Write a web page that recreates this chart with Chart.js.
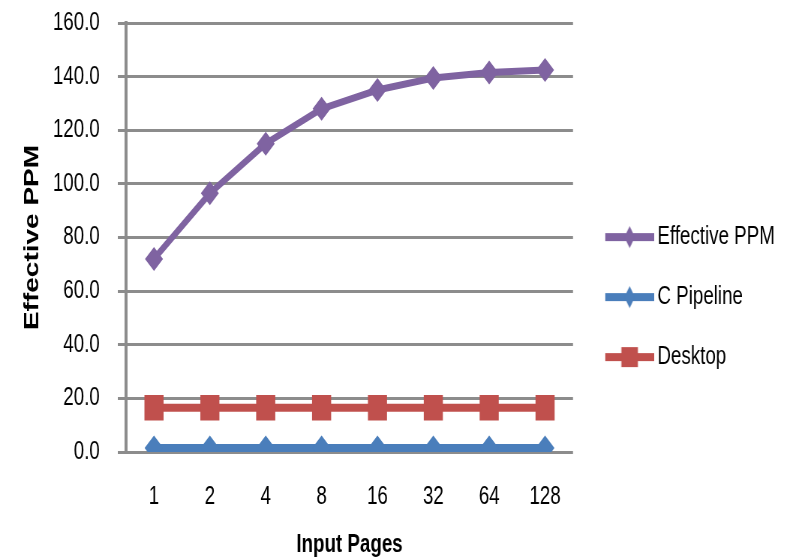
<!DOCTYPE html>
<html>
<head>
<meta charset="utf-8">
<script src="https://cdn.jsdelivr.net/npm/chart.js@4"></script>
<style>
  html, body { margin: 0; padding: 0; background: #fff; overflow: hidden; }
  /* the original figure is squeezed horizontally: draw wide, show at 796px */
  #ppmChart { display: block; width: 796px; height: 560px; }
</style>
</head>
<body>
<canvas id="ppmChart" width="1061" height="560" style="width:796px;height:560px"></canvas>
<script>
// ===== DATA =====
const pages        = ['1', '2', '4', '8', '16', '32', '64', '128'];
const effectivePpm = [72, 96.5, 115, 128, 135, 139.5, 141.5, 142.5];
const cPipeline    = [1.5, 1.5, 1.5, 1.5, 1.5, 1.5, 1.5, 1.5];
const desktop      = [16.5, 16.5, 16.5, 16.5, 16.5, 16.5, 16.5, 16.5];
const yTicks       = [0, 20, 40, 60, 80, 100, 120, 140, 160];

const COLORS = {
  purple: '#7f63a1',
  blue:   '#4a7ebb',
  red:    '#c0504d',
  grid:   '#8c8c8c',
};

const SANS = "'Liberation Sans', Arial, sans-serif";
const LEGEND_EXTRA = 20;   // legend box comes out a bit narrow for its text, widen it

// ===== LEGEND SWATCH (line + marker, pushed right so it sits next to the text) =====
function legendSwatch(kind, color) {
  const W = 116, H = 26, x0 = 51, x1 = 116, mid = (x0 + x1) / 2;
  const c = document.createElement('canvas');
  c.width = W; c.height = H;
  const g = c.getContext('2d');
  g.fillStyle = color;
  g.fillRect(x0, H / 2 - 4, x1 - x0, 8);
  if (kind === 'diamond') {
    g.beginPath();
    g.moveTo(mid, 2); g.lineTo(mid + 7, H / 2); g.lineTo(mid, H - 2); g.lineTo(mid - 7, H / 2);
    g.closePath(); g.fill();
  } else {
    g.fillRect(mid - 11, 3, 22, H - 6);
  }
  return c;
}

const legendImgs = [
  legendSwatch('diamond', COLORS.purple),
  legendSwatch('diamond', COLORS.blue),
  legendSwatch('square', COLORS.red),
];

const widenLegend = {
  id: 'widenLegend',
  beforeLayout(chart) {
    const lg = chart.legend;
    if (!lg || lg._widened) return;
    const fit = lg.fit.bind(lg);
    lg.fit = () => { fit(); lg.width += LEGEND_EXTRA; };
    lg._widened = true;
  }
};

new Chart(document.getElementById('ppmChart'), {
  type: 'line',
  data: {
    labels: pages,
    datasets: [
      {
        label: 'Effective PPM',
        data: effectivePpm,
        borderColor: COLORS.purple,
        backgroundColor: COLORS.purple,
        borderWidth: 7,
        pointStyle: 'rectRot',
        pointRadius: 12,
        pointBorderWidth: 0,
      },
      {
        label: 'C Pipeline',
        data: cPipeline,
        borderColor: COLORS.blue,
        backgroundColor: COLORS.blue,
        borderWidth: 8,
        pointStyle: 'rectRot',
        pointRadius: 12.5,
        pointBorderWidth: 0,
      },
      {
        label: 'Desktop',
        data: desktop,
        borderColor: COLORS.red,
        backgroundColor: COLORS.red,
        borderWidth: 8,
        pointStyle: 'rect',
        pointRadius: 18,
        pointBorderWidth: 0,
      },
    ]
  },
  plugins: [widenLegend],
  options: {
    responsive: false,
    animation: false,
    layout: { autoPadding: false, padding: { top: 23, right: 16, bottom: 0, left: 0 } },
    plugins: {
      tooltip: { enabled: false },
      legend: {
        position: 'right',
        title: { display: true, text: ' ', font: { size: 1 }, padding: 22.5 },
        labels: {
          usePointStyle: true,
          pointStyleWidth: 100,
          padding: 0,
          color: '#000',
          font: { size: 25, family: SANS, lineHeight: 2.4 },
          // one-line arrays: the row height then follows font.lineHeight
          generateLabels: chart => Chart.defaults.plugins.legend.labels.generateLabels(chart)
            .map((item, i) => ({ ...item, text: [item.text], pointStyle: legendImgs[i] })),
        }
      }
    },
    scales: {
      x: {
        offset: true,
        grid: { display: false, drawTicks: false },
        border: { display: false },
        ticks: { color: '#000', padding: 30, font: { size: 25, family: SANS } },
        title: {
          display: true,
          text: 'Input Pages',
          color: '#000',
          padding: { top: 0, bottom: 0 },
          font: { size: 25, weight: 'bold', family: SANS },
        },
        afterFit: s => { s.height = 108; },
      },
      y: {
        min: 0,
        max: 160,
        afterBuildTicks: s => { s.ticks = yTicks.map(v => ({ value: v })); },
        grid: { color: COLORS.grid, lineWidth: 3, tickLength: 11 },
        border: { display: true, color: COLORS.grid, width: 4 },
        ticks: {
          color: '#000',
          padding: 24,
          font: { size: 25, family: SANS },
          callback: v => v.toFixed(1),
        },
        title: {
          display: true,
          text: 'Effective PPM',
          color: '#000',
          padding: { top: 26, bottom: 0 },
          font: { size: 28, weight: 'bold', family: SANS },
        },
        afterFit: s => { s.width = 168; s.paddingTop = 0; s.paddingBottom = 0; },
      }
    }
  }
});
</script>
</body>
</html>
